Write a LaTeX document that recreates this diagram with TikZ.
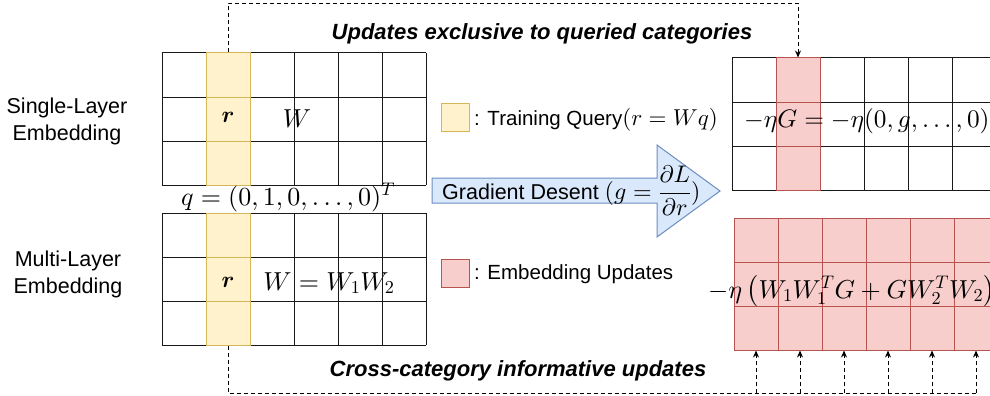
\documentclass[tikz,border=0pt]{standalone}
\usepackage{amsmath,bm}
\usepackage{fontspec}
\newfontfamily\arial{Liberation Sans}
\DeclareFontShape{OML}{cmm}{m}{it}{<->cmmi10}{}
\DeclareFontShape{OML}{cmm}{b}{it}{<->cmmib10}{}
\DeclareFontShape{OMS}{cmsy}{m}{n}{<->cmsy10}{}
\DeclareFontShape{OT1}{cmr}{m}{n}{<->cmr10}{}
\DeclareFontShape{OMX}{cmex}{m}{n}{<->cmex10}{}
\usetikzlibrary{arrows.meta}
\definecolor{yfill}{HTML}{FFF2CC}
\definecolor{ydraw}{HTML}{D6B656}
\definecolor{rfill}{HTML}{F8CECC}
\definecolor{rdraw}{HTML}{B85450}
\definecolor{bfill}{HTML}{DAE8FC}
\definecolor{bdraw}{HTML}{6C8EBF}
\begin{document}
\begin{tikzpicture}[x=1pt,y=-1pt,
  gl/.style={draw=black!90, line width=1pt},
  ycol/.style={draw=ydraw, fill=yfill, line width=1pt, minimum width=44pt, minimum height=132pt, inner sep=0pt},
  rcol/.style={draw=rdraw, fill=rfill, line width=1pt, minimum width=44pt, minimum height=132pt, inner sep=0pt},
  sans/.style={font=\arial\fontsize{21.5}{27}\selectfont, inner sep=0pt},
  leg/.style={font=\arial\fontsize{20.5}{24}\selectfont, inner sep=0pt},
  head/.style={font=\arial\bfseries\itshape\fontsize{22}{26}\selectfont, inner sep=0pt},
  mth/.style={font=\fontsize{26}{30}\selectfont, inner sep=0pt},
  dsh/.style={draw=black, line width=1pt, dash pattern=on 4pt off 3pt},
  tip/.style={-{Stealth[length=7pt,width=6pt]}},
]
\useasboundingbox (0,0) rectangle (990,396);
\clip (0,0) rectangle (990,396);

% top-left grid
\foreach \i in {0,...,6} \draw[gl] ({162+44*\i},53) -- ({162+44*\i},185);
\foreach \j in {0,...,3} \draw[gl] (162,{53+44*\j}) -- (426,{53+44*\j});
\node[ycol] (colA) at (228,119) {};
\foreach \j in {97,141} \draw[draw=ydraw, line width=1pt] (206,\j) -- (250,\j);

% bottom-left grid
\foreach \i in {0,...,6} \draw[gl] ({162+44*\i},213) -- ({162+44*\i},345);
\foreach \j in {0,...,3} \draw[gl] (162,{213+44*\j}) -- (426,{213+44*\j});
\node[ycol] (colB) at (228,279) {};
\foreach \j in {257,301} \draw[draw=ydraw, line width=1pt] (206,\j) -- (250,\j);

% top-right grid
\foreach \i in {0,...,6} \draw[gl] ({732+44*\i},58) -- ({732+44*\i},190);
\foreach \j in {0,...,3} \draw[gl] (732,{58+44*\j}) -- (996,{58+44*\j});
\node[rcol] (colC) at (798,124) {};
\foreach \j in {102,146} \draw[draw=rdraw, line width=1pt] (776,\j) -- (820,\j);

% bottom-right grid (all updated)
\foreach \i in {0,...,5} \node[rcol] (bc\i) at ({756+44*\i},284) {};
\foreach \j in {262,306} \draw[draw=rdraw, line width=1pt] (734,\j) -- (998,\j);

% connectors
\draw[dsh,tip] (colA.north) -- ++(0,-49) -| (colC.north);
\foreach \i in {0,...,5} \coordinate (foot\i) at ({756+44*\i},393);
\draw[dsh] (colB.south) |- (foot5);
\foreach \i in {0,...,5} \draw[dsh,tip] (foot\i) -- (bc\i.south);

% big arrow
\draw[draw=bdraw, fill=bfill, line width=1pt] (432,178) -- (657,178) -- (657,145) -- (720,191) -- (657,237) -- (657,203) -- (432,203) -- cycle;
\node[sans, anchor=base west] (gd) at (442,199) {Gradient Desent {\fontsize{24}{28}\selectfont$(g=\dfrac{\partial L}{\partial r})$}};

% side labels
\node[sans, align=center] (sl) at (67,121) {Single-Layer\\Embedding};
\node[sans, align=center] (ml) at (68,274) {Multi-Layer\\Embedding};

% legend
\node[draw=ydraw, fill=yfill, line width=1pt, minimum size=28pt, inner sep=0pt] (ly) at (455,117) {};
\node[leg, anchor=base west] (lyt) at (474,125) {: Training Query{\fontsize{23}{27}\selectfont$(r=Wq)$}};
\node[draw=rdraw, fill=rfill, line width=1pt, minimum size=28pt, inner sep=0pt] (lr) at (455,273) {};
\node[leg, anchor=base west] (lrt) at (474,279) {: Embedding Updates};

% headings
\node[head, anchor=base] (h1) at (542,40) {Updates exclusive to queried categories};
\node[head, anchor=base] (h2) at (518,376) {Cross-category informative updates};

% math labels
\node[mth, anchor=base] (rA) at (228,122) {\fontsize{23}{27}\selectfont$\bm{r}$};
\node[mth, anchor=base] (rB) at (228,287) {\fontsize{23}{27}\selectfont$\bm{r}$};
\node[mth, anchor=base] (wA) at (297,127) {$W$};
\node[mth, anchor=base] (wB) at (329,290) {$W = W_1W_2$};
\node[mth, anchor=base] (q) at (288,205) {$q=(0,1,0,\ldots,0)^T$};
\node[mth, anchor=base west] (gC) at (744,127) {\fontsize{25.3}{30}\selectfont$-\eta G=-\eta(0,g,\ldots,0)$};
\node[mth, anchor=base west] (gD) at (708,298) {$-\eta\left(W_1W_1^TG+GW_2^TW_2\right)$};
\end{tikzpicture}
\end{document}
